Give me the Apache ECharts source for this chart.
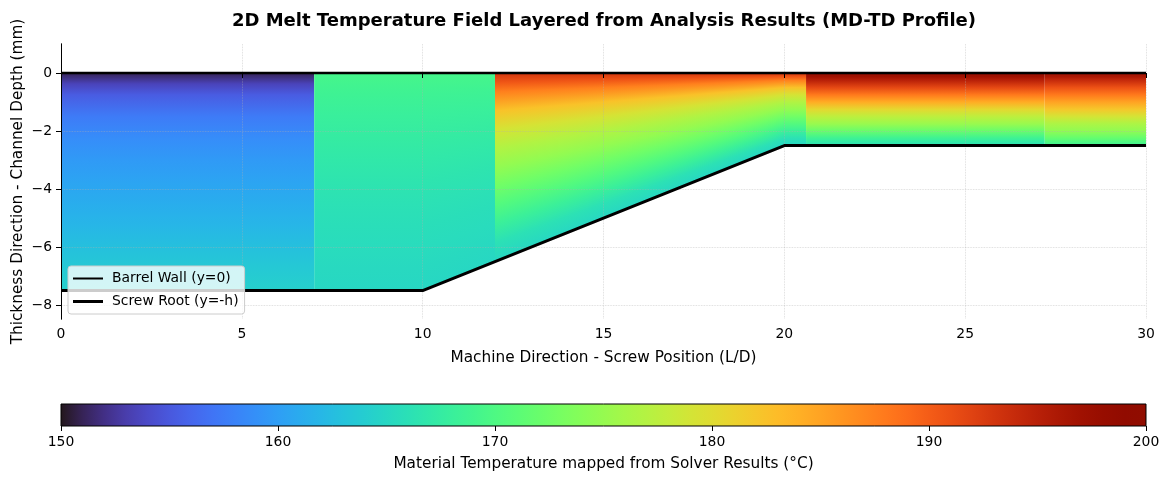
<!DOCTYPE html>
<html>
<head>
<meta charset="utf-8">
<script src="https://cdn.jsdelivr.net/npm/echarts@6/dist/echarts.min.js"></script>
<style>
html, body { margin: 0; padding: 0; background: #fff; }
#main { width: 1168px; height: 480px; }
</style>
</head>
<body>
<div id="main"></div>
<script>
// screw geometry: barrel wall and screw root (x in L/D, y in mm)
var rootX = [0, 10, 20, 30];
var rootY = [-7.5, -7.5, -2.5, -2.5];
var barrelX = [0, 30];
var barrelY = [0, 0];

// solver result segments along the screw
var segStart = [0, 7, 12, 20.6, 27.2];
var segEnd = [7, 12, 20.6, 27.2, 30];
// relative depth across the channel (0 = barrel wall, 1 = screw root)
var depthPos = [0, 0.05, 0.1, 0.2, 0.3, 0.4, 0.5, 0.6, 0.7, 0.8, 0.9, 1];
// melt temperature (°C) at those depths, one row per segment
var segTemps = [
  [151, 153.5, 155.3, 157.5, 158.8, 159.7, 160.5, 161.2, 161.9, 162.8, 163.6, 164.3],
  [169.3, 169, 168.6, 168, 167.5, 167, 166.5, 166.1, 165.8, 165.5, 165.2, 165],
  [193, 190.5, 187.5, 182.5, 179.2, 176.7, 174.8, 172.6, 170.4, 168.2, 166.1, 165],
  [198, 197, 195, 191.5, 188, 184.3, 180.4, 177.5, 175.2, 172, 168.5, 166],
  [197, 196, 194, 190.8, 188, 185, 182, 179, 176.4, 174.6, 171.6, 168.5]
];

var tMin = 150, tMax = 200;
var yTicks = [0, -2, -4, -6, -8];

var FONT = 'DejaVu Sans';

// turbo colormap (polynomial approximation)
function turbo(v) {
  var t = Math.max(0, Math.min(1, (v - tMin) / (tMax - tMin)));
  var r = 0.13572138 + t * (4.61539260 + t * (-42.66032258 + t * (132.13108234 + t * (-152.94239396 + t * 59.28637943))));
  var g = 0.09140261 + t * (2.19418839 + t * (4.84296658 + t * (-14.18503333 + t * (4.27729857 + t * 2.82956604))));
  var b = 0.10667330 + t * (12.64194608 + t * (-60.58204836 + t * (110.36276771 + t * (-89.90310912 + t * 27.34824973))));
  function c(x) { return Math.round(Math.max(0, Math.min(1, x)) * 255); }
  return 'rgb(' + c(r) + ',' + c(g) + ',' + c(b) + ')';
}

function rootAt(x) {
  for (var i = 0; i < rootX.length - 1; i++) {
    if (x <= rootX[i + 1]) {
      var f = (x - rootX[i]) / (rootX[i + 1] - rootX[i]);
      return rootY[i] + f * (rootY[i + 1] - rootY[i]);
    }
  }
  return rootY[rootY.length - 1];
}

function pairs(xs, ys) {
  return xs.map(function (x, i) { return [x, ys[i]]; });
}

function renderField(params, api) {
  var x0 = api.value(0), x1 = api.value(1), si = api.value(2);
  var stops = segTemps[si].map(function (T, k) {
    return { offset: depthPos[k], color: turbo(T) };
  });
  var left = api.coord([x0, 0])[0];
  var right = api.coord([x1, 0])[0];
  var n = Math.max(1, Math.ceil((right - left) / 2));
  var children = [];
  for (var k = 0; k < n; k++) {
    var xa = x0 + (x1 - x0) * k / n;
    var xb = x0 + (x1 - x0) * (k + 1) / n;
    var xm = (xa + xb) / 2;
    var pa = api.coord([xa, 0]), pb = api.coord([xb, 0]);
    var qb = api.coord([xb, rootAt(xb)]), qa = api.coord([xa, rootAt(xa)]);
    var ext = k < n - 1 ? 1 : 0;
    var yBot = api.coord([xm, rootAt(xm)])[1];
    var grad = new echarts.graphic.LinearGradient(0, pa[1], 0, yBot, stops, true);
    children.push({
      type: 'polygon',
      shape: { points: [pa, [pb[0] + ext, pb[1]], [qb[0] + ext, qb[1]], qa] },
      style: { fill: grad }
    });
  }
  return { type: 'group', children: children };
}

function renderBar(params, api) {
  var p0 = api.coord([api.value(0), 0]);
  var p1 = api.coord([api.value(1), 1]);
  var stops = [];
  for (var v = tMin; v <= tMax; v += 1) {
    stops.push({ offset: (v - tMin) / (tMax - tMin), color: turbo(v) });
  }
  var grad = new echarts.graphic.LinearGradient(0, 0, 1, 0, stops);
  return {
    type: 'rect',
    shape: { x: p0[0], y: p1[1], width: p1[0] - p0[0], height: p0[1] - p1[1] },
    style: { fill: grad, stroke: '#000', lineWidth: 1 }
  };
}

function minus(v) { return v < 0 ? '\u2212' + (-v) : String(v); }

var chart = echarts.init(document.getElementById('main'));

var tickLbl = { color: '#000', fontSize: 13.9, fontFamily: FONT };
var nameLbl = { color: '#000', fontSize: 15.3, fontFamily: FONT };
var gridLine = { show: true, lineStyle: { color: 'rgba(176,176,176,0.55)', type: 'dotted', width: 0.8 } };

chart.setOption({
  animation: false,
  textStyle: { fontFamily: FONT },
  title: {
    text: '2D Melt Temperature Field Layered from Analysis Results (MD-TD Profile)',
    left: 599,
    top: 7,
    textAlign: 'center',
    textStyle: { fontSize: 18, fontWeight: 'bold', color: '#000', fontFamily: FONT }
  },
  legend: {
    data: [
      { name: 'Barrel Wall (y=0)', icon: 'path://M0,0H30V2H0Z' },
      { name: 'Screw Root (y=-h)', icon: 'path://M0,0H30V3H0Z' }
    ],
    orient: 'vertical',
    left: 68,
    top: 266,
    itemWidth: 30,
    itemHeight: 3,
    itemGap: 8,
    padding: [5, 6, 5, 5],
    backgroundColor: 'rgba(255,255,255,0.8)',
    borderColor: '#cccccc',
    borderWidth: 1,
    borderRadius: 3,
    itemStyle: { color: '#000', borderWidth: 0 },
    lineStyle: { width: 0 },
    textStyle: { fontSize: 13.9, color: '#000', fontFamily: FONT, lineHeight: 15, padding: [0, 0, 0, 4] },
    z: 20
  },
  grid: [
    { left: 61, right: 22, top: 44, height: 275, outerBoundsMode: 'none', containLabel: false },
    { left: 61, right: 22, top: 404, height: 22, outerBoundsMode: 'none', containLabel: false }
  ],
  xAxis: [
    {
      gridIndex: 0, type: 'value', min: 0, max: 30, interval: 5,
      z: 5,
      axisLine: { lineStyle: { color: '#000', width: 1 } },
      axisTick: { length: 5, lineStyle: { color: '#000' } },
      axisLabel: Object.assign({ margin: 8 }, tickLbl),
      splitLine: gridLine,
      name: 'Machine Direction - Screw Position (L/D)',
      nameLocation: 'middle', nameGap: 32, nameTextStyle: nameLbl
    },
    {
      gridIndex: 0, type: 'value', min: 0, max: 30, position: 'top', z: 5,
      axisLine: { lineStyle: { color: '#000', width: 1 } },
      axisTick: { show: false }, axisLabel: { show: false }, splitLine: { show: false }
    },
    {
      gridIndex: 1, type: 'value', min: tMin, max: tMax, interval: 10,
      axisLine: { show: false },
      axisTick: { length: 5, lineStyle: { color: '#000' } },
      axisLabel: Object.assign({ margin: 9 }, tickLbl),
      splitLine: { show: false },
      name: 'Material Temperature mapped from Solver Results (°C)',
      nameLocation: 'middle', nameGap: 31, nameTextStyle: nameLbl
    }
  ],
  yAxis: [
    {
      gridIndex: 0, type: 'value', min: -8.48, max: 1.0, z: 5,
      axisLine: { show: true, lineStyle: { color: '#000', width: 1 } },
      axisTick: { show: true, length: 5, lineStyle: { color: '#000' }, customValues: yTicks },
      axisLabel: Object.assign({ margin: 9, customValues: yTicks, formatter: minus }, tickLbl),
      splitLine: gridLine,
      name: 'Thickness Direction - Channel Depth (mm)',
      nameLocation: 'middle', nameGap: 35, nameMoveOverlap: false, nameTextStyle: nameLbl
    },
    {
      gridIndex: 0, type: 'value', min: -8.48, max: 1.0, position: 'right', z: 5,
      axisLine: { show: true, lineStyle: { color: '#000', width: 1 } },
      axisTick: { show: false }, axisLabel: { show: false }, splitLine: { show: false }
    },
    {
      gridIndex: 1, type: 'value', min: 0, max: 1, show: false
    }
  ],
  series: [
    {
      type: 'custom',
      name: 'field',
      xAxisIndex: 0, yAxisIndex: 0,
      renderItem: renderField,
      encode: { x: [0, 1], y: 3 },
      data: segStart.map(function (s, i) { return [s, segEnd[i], i, 0]; }),
      silent: true,
      z: 2
    },
    {
      type: 'line',
      name: 'Barrel Wall (y=0)',
      xAxisIndex: 0, yAxisIndex: 0,
      data: pairs(barrelX, barrelY),
      symbol: 'none',
      lineStyle: { color: '#000', width: 2.5 },
      itemStyle: { color: '#000' },
      z: 8
    },
    {
      type: 'line',
      name: 'Screw Root (y=-h)',
      xAxisIndex: 0, yAxisIndex: 0,
      data: pairs(rootX, rootY),
      symbol: 'none',
      lineStyle: { color: '#000', width: 3 },
      itemStyle: { color: '#000' },
      z: 8
    },
    {
      type: 'custom',
      name: 'colorbar',
      xAxisIndex: 2, yAxisIndex: 2,
      renderItem: renderBar,
      encode: { x: [0, 1] },
      data: [[tMin, tMax]],
      silent: true
    }
  ]
});
</script>
</body>
</html>
